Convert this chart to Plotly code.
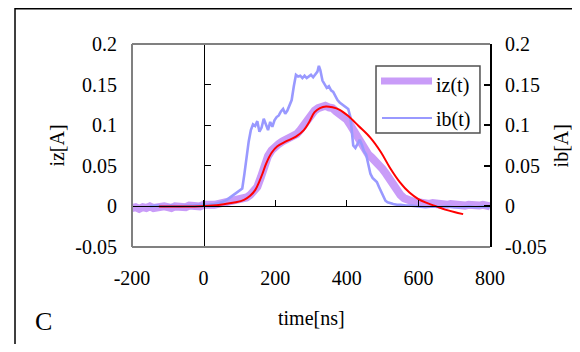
import plotly.graph_objects as go

# ---------------- data ----------------
t_iz = [-200, -190, -180, -170, -160, -150, -140, -130, -120, -110, -100, -90, -80, -70, -60, -50, -40, -30, -20, -10,
        0, 10, 20, 30, 40, 50, 60, 70, 80, 90, 100, 110, 120, 130, 140, 150, 160, 170, 180, 190,
        200, 210, 220, 230, 240, 250, 260, 270, 280, 290, 300, 310, 320, 330, 340, 350, 360, 370, 380, 390,
        400, 410, 420, 430, 440, 450, 460, 470, 480, 490, 500, 510, 520, 530, 540, 550, 560, 570, 580, 590,
        600, 610, 620, 630, 640, 650, 660, 670, 680, 690, 700, 710, 720, 730, 740, 750, 760, 770, 780, 790, 800]
iz = [-0.002, -0.001, -0.003, -0.001, -0.002, 0.000, -0.002, -0.001, -0.002, 0.000, -0.001, -0.002, 0.000, -0.001, 0.000, -0.001, 0.001, 0.000, 0.001, 0.000,
      0.002, 0.001, 0.002, 0.002, 0.003, 0.003, 0.004, 0.004, 0.005, 0.006, 0.007, 0.009, 0.011, 0.014, 0.018, 0.024, 0.036, 0.050, 0.062, 0.069,
      0.074, 0.077, 0.080, 0.082, 0.084, 0.086, 0.089, 0.094, 0.100, 0.108, 0.113, 0.118, 0.121, 0.123, 0.124, 0.122, 0.121, 0.117, 0.114, 0.111,
      0.107, 0.100, 0.092, 0.084, 0.077, 0.070, 0.064, 0.060, 0.056, 0.052, 0.046, 0.040, 0.033, 0.026, 0.019, 0.014, 0.010, 0.008, 0.006, 0.005,
      0.005, 0.004, 0.004, 0.003, 0.004, 0.003, 0.002, 0.003, 0.002, 0.003, 0.002, 0.003, 0.002, 0.001, 0.002, 0.001, 0.002, 0.001, 0.002, 0.001, 0.000]

t_ib = [-150, -130, -110, -90, -70, -50, -30, -10, 10, 30, 50, 65, 80, 95, 102, 108, 114, 120, 126, 132,
        138, 144, 150, 156, 162, 168, 174, 180, 186, 192, 198, 204, 210, 216, 222, 228, 234, 240, 246, 252,
        258, 264, 270, 276, 282, 288, 294, 300, 306, 312, 318, 322, 326, 332, 338, 344, 350, 356, 362, 368,
        374, 380, 386, 392, 398, 404, 410, 414, 418, 424, 430, 436, 442, 448, 454, 460, 466, 472, 478, 484,
        490, 496, 502, 508, 514, 520, 530, 540, 550, 565, 580, 600, 620, 640, 660, 680, 700, 720, 740, 760, 780, 800]
ib = [0.000, 0.001, 0.000, 0.001, 0.000, 0.001, 0.001, 0.002, 0.002, 0.003, 0.005, 0.008, 0.013, 0.018, 0.020, 0.022, 0.040, 0.062, 0.080, 0.094,
      0.101, 0.099, 0.105, 0.092, 0.097, 0.108, 0.100, 0.094, 0.104, 0.098, 0.106, 0.110, 0.112, 0.117, 0.120, 0.114, 0.118, 0.124, 0.131, 0.148,
      0.162, 0.160, 0.161, 0.158, 0.161, 0.158, 0.160, 0.162, 0.159, 0.163, 0.166, 0.173, 0.168, 0.155, 0.150, 0.146, 0.148, 0.143, 0.141, 0.135,
      0.131, 0.128, 0.126, 0.124, 0.123, 0.120, 0.110, 0.092, 0.075, 0.072, 0.078, 0.082, 0.076, 0.068, 0.064, 0.050, 0.040, 0.035, 0.032, 0.030,
      0.024, 0.018, 0.012, 0.007, 0.005, 0.004, 0.003, 0.002, 0.002, 0.001, 0.001, 0.000, -0.001, 0.000, -0.001, 0.000, -0.001, -0.001, 0.000, -0.001, 0.000, -0.001]

t_fit = [-125, -75, -25, 25, 60, 90, 113, 130, 144, 155, 165, 175, 190, 206, 230, 258, 280, 295, 310, 325,
         342, 360, 380, 405, 433, 465, 495, 520, 548, 575, 600, 625, 650, 675, 700, 725]
fit = [0.000, 0.000, 0.000, 0.001, 0.003, 0.005, 0.008, 0.013, 0.020, 0.030, 0.041, 0.053, 0.066, 0.074, 0.080, 0.086, 0.094, 0.104, 0.116, 0.121,
       0.123, 0.122, 0.119, 0.111, 0.099, 0.085, 0.067, 0.048, 0.030, 0.017, 0.009, 0.004, 0.000, -0.004, -0.007, -0.0095]

x_ticks = [-200, 0, 200, 400, 600, 800]
x_ticktext = ["-200", "0", "200", "400", "600", "800"]
x_inner_ticks = [0, 200, 400, 600, 800]
y_ticks = [-0.05, 0, 0.05, 0.1, 0.15, 0.2]
y_ticktext = ["-0.05", "0", "0.05", "0.1", "0.15", "0.2"]
y_inner_ticks = [-0.05, 0.05, 0.1, 0.15, 0.2]

series_names = ["iz(t)", "ib(t)"]

# ---------------- style ----------------
PURPLE = "#c99cf8"
BLUE = "#9999ff"
RED = "#ff0000"
FONT = "Liberation Serif"
XR = [-200, 800]
YR = [-0.05, 0.2]

fig = go.Figure()
fig.add_trace(go.Scatter(x=t_iz, y=iz, mode="lines", name=series_names[0],
                         line=dict(color=PURPLE, width=8), showlegend=False, hoverinfo="skip"))
fig.add_trace(go.Scatter(x=t_ib, y=ib, mode="lines", name=series_names[1],
                         line=dict(color=BLUE, width=2.6), showlegend=False, hoverinfo="skip"))
fig.add_trace(go.Scatter(x=t_fit, y=fit, mode="lines", name="fit", line_shape="spline",
                         line=dict(color=RED, width=2), showlegend=False, hoverinfo="skip"))
# helper (empty) traces so the overlay axes are built
fig.add_trace(go.Scatter(x=[None], y=[None], xaxis="x2", yaxis="y2", showlegend=False, hoverinfo="skip"))
fig.add_trace(go.Scatter(x=[None], y=[None], xaxis="x", yaxis="y3", showlegend=False, hoverinfo="skip"))

tickfont = dict(family=FONT, size=20, color="black")

fig.update_layout(
    width=572, height=336,
    margin=dict(l=124, r=90, t=36, b=97, pad=0),
    paper_bgcolor="white", plot_bgcolor="white",
    showlegend=False,
    font=dict(family=FONT, size=20, color="black"),
    xaxis=dict(range=XR, anchor="free", position=0.2, showline=True, linecolor="black", linewidth=1,
               ticks="inside", ticklen=6, tickcolor="black", tickwidth=1, tickvals=x_inner_ticks,
               showticklabels=False, showgrid=False, zeroline=False),
    xaxis2=dict(range=XR, overlaying="x", anchor="y2", side="bottom", showline=False, ticks="",
                tickvals=x_ticks, ticktext=x_ticktext, tickfont=tickfont, ticklabelstandoff=17,
                showgrid=False, zeroline=False),
    yaxis=dict(range=YR, anchor="free", position=0.2, showline=True, linecolor="black", linewidth=1,
               ticks="inside", ticklen=6, tickcolor="black", tickwidth=1, tickvals=y_inner_ticks,
               showticklabels=False, showgrid=False, zeroline=False),
    yaxis2=dict(range=YR, overlaying="y", anchor="x2", side="left", showline=False, ticks="",
                tickvals=y_ticks, ticktext=y_ticktext, tickfont=tickfont, ticklabelstandoff=14,
                showgrid=False, zeroline=False),
    yaxis3=dict(range=YR, overlaying="y", anchor="x", side="right", showline=True, linecolor="black",
                linewidth=2, ticks="inside", ticklen=6, tickcolor="black", tickwidth=1.5,
                tickvals=y_ticks, ticktext=y_ticktext, tickfont=tickfont, ticklabelstandoff=9,
                showgrid=False, zeroline=False),
)

shapes = [
    dict(type="rect", xref="paper", yref="paper", x0=-0.3268, x1=1.2458, y0=-0.6, y1=1.1736,
         line=dict(color="black", width=1.5), layer="above"),
    dict(type="line", xref="paper", yref="paper", x0=0, x1=1, y0=1, y1=1, line=dict(color="#808080", width=2), layer="above"),
    dict(type="line", xref="paper", yref="paper", x0=0, x1=1, y0=0, y1=0, line=dict(color="#808080", width=2), layer="above"),
    dict(type="line", xref="paper", yref="paper", x0=0, x1=0, y0=0, y1=1, line=dict(color="#808080", width=2), layer="above"),
    dict(type="rect", xref="paper", yref="paper", x0=0.6816, x1=0.972, y0=0.5616, y1=0.8916,
         line=dict(color="#505050", width=1.5), fillcolor="white", layer="above"),
    dict(type="line", xref="paper", yref="paper", x0=0.6955, x1=0.838, y0=0.8177, y1=0.8177,
         line=dict(color=PURPLE, width=7), layer="above"),
    dict(type="line", xref="paper", yref="paper", x0=0.6983, x1=0.838, y0=0.6355, y1=0.6355,
         line=dict(color=BLUE, width=2.2), layer="above"),
]
fig.update_layout(shapes=shapes)

ann = [
    dict(text=series_names[0], x=0.8436, y=0.795, xref="paper", yref="paper", xanchor="left", yanchor="middle",
         showarrow=False, font=dict(family=FONT, size=20)),
    dict(text=series_names[1], x=0.8436, y=0.628, xref="paper", yref="paper", xanchor="left", yanchor="middle",
         showarrow=False, font=dict(family=FONT, size=20)),
    dict(text="time[ns]", x=0.5, y=-0.35, xref="paper", yref="paper", xanchor="center", yanchor="middle",
         showarrow=False, font=dict(family=FONT, size=20)),
    dict(text="iz[A]", x=-0.212, y=0.5, xref="paper", yref="paper", xanchor="center", yanchor="middle",
         textangle=-90, showarrow=False, font=dict(family=FONT, size=20)),
    dict(text="ib[A]", x=1.198, y=0.5, xref="paper", yref="paper", xanchor="center", yanchor="middle",
         textangle=-90, showarrow=False, font=dict(family=FONT, size=20)),
    dict(text="C", x=-0.246, y=-0.365, xref="paper", yref="paper", xanchor="center", yanchor="middle",
         showarrow=False, font=dict(family=FONT, size=26)),
]
fig.update_layout(annotations=ann)

fig.write_html("out.html")
